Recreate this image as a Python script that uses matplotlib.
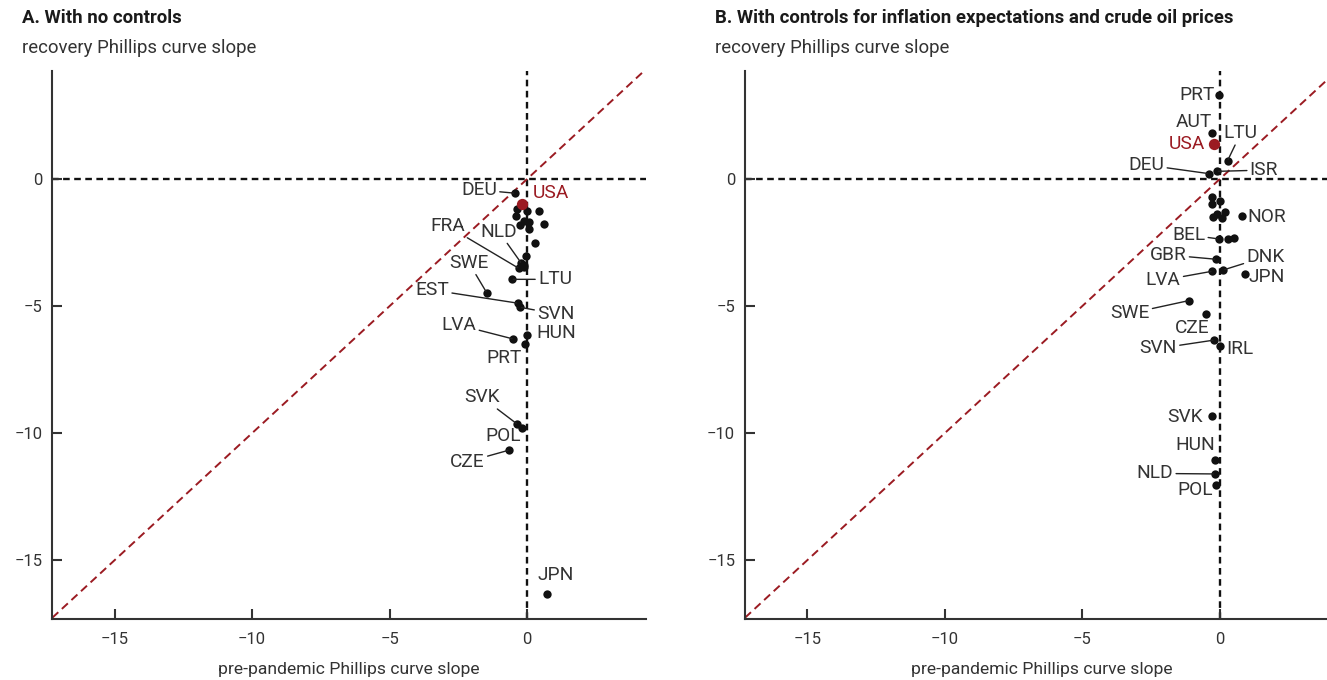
import matplotlib
matplotlib.use("Agg")
import matplotlib.pyplot as plt

plt.rcParams["font.family"] = ["Roboto", "DejaVu Sans"]

# Panel A: no controls (pre-pandemic slope, recovery slope)
countries_a = ["DEU", "USA", "FRA", "NLD", "SWE", "LTU", "EST", "SVN", "HUN",
               "LVA", "PRT", "SVK", "POL", "CZE", "JPN",
               "", "", "", "", "", "", "", "", "", "", "", "", ""]
pre_a = [-0.44, -0.18, -0.30, -0.21, -1.47, -0.56, -0.33, -0.26, 0.00,
         -0.50, -0.09, -0.36, -0.18, -0.65, 0.73,
         -0.38, 0.00, 0.42, -0.42, -0.10, 0.08, -0.25, 0.06, 0.60, 0.30,
         -0.03, -0.10, -0.12]
rec_a = [-0.56, -0.98, -3.52, -3.32, -4.48, -3.95, -4.89, -5.05, -6.14,
         -6.30, -6.50, -9.65, -9.82, -10.67, -16.35,
         -1.17, -1.28, -1.28, -1.45, -1.65, -1.70, -1.80, -1.97, -1.78,
         -2.52, -3.03, -3.45, -3.40]

# Panel B: controls for inflation expectations and crude oil prices
countries_b = ["PRT", "AUT", "USA", "LTU", "DEU", "ISR", "NOR", "BEL", "GBR",
               "DNK", "LVA", "JPN", "SWE", "CZE", "SVN", "IRL", "SVK", "HUN",
               "NLD", "POL",
               "", "", "", "", "", "", "", "", ""]
pre_b = [-0.04, -0.30, -0.20, 0.28, -0.40, -0.11, 0.82, -0.04, -0.14,
         0.13, -0.27, 0.93, -1.14, -0.52, -0.20, 0.02, -0.30, -0.18,
         -0.18, -0.13,
         -0.30, 0.00, -0.28, 0.18, -0.12, -0.24, 0.06, 0.28, 0.51]
rec_b = [3.30, 1.80, 1.37, 0.72, 0.21, 0.30, -1.44, -2.36, -3.16,
         -3.58, -3.63, -3.74, -4.79, -5.31, -6.34, -6.57, -9.33, -11.07,
         -11.61, -12.03,
         -0.72, -0.85, -0.98, -1.29, -1.39, -1.48, -1.55, -2.35, -2.33]

# label centres (data units) and whether a leader line is drawn
labels_a = {
    "DEU": (-1.75, -0.43, True), "USA": (0.87, -0.56, False),
    "FRA": (-2.90, -1.85, True), "NLD": (-1.03, -2.07, True),
    "SWE": (-2.12, -3.30, True), "LTU": (1.01, -3.95, True),
    "EST": (-3.45, -4.37, True), "SVN": (1.04, -5.31, True),
    "HUN": (1.04, -6.07, False), "LVA": (-2.48, -5.75, True),
    "PRT": (-0.84, -7.06, False), "SVK": (-1.65, -8.59, True),
    "POL": (-0.87, -10.12, False), "CZE": (-2.17, -11.13, True),
    "JPN": (1.04, -15.59, False),
}
labels_b = {
    "PRT": (-0.85, 3.31, False), "AUT": (-0.93, 2.26, False),
    "USA": (-1.21, 1.38, False), "LTU": (0.76, 1.80, True),
    "DEU": (-2.67, 0.55, True), "ISR": (1.60, 0.35, True),
    "NOR": (1.72, -1.48, False), "BEL": (-1.13, -2.20, True),
    "GBR": (-1.88, -2.99, True), "DNK": (1.66, -3.06, True),
    "LVA": (-2.06, -3.98, True), "JPN": (1.72, -3.85, False),
    "SWE": (-3.27, -5.29, True), "CZE": (-1.00, -5.88, False),
    "SVN": (-2.24, -6.67, True), "IRL": (0.73, -6.70, False),
    "SVK": (-1.25, -9.38, False), "HUN": (-0.88, -10.47, False),
    "NLD": (-2.36, -11.59, True), "POL": (-0.91, -12.24, False),
}

titles = ["A. With no controls",
          "B. With controls for inflation expectations and crude oil prices"]

RED = "#9b1b22"
INK = "#333333"
XLIM = (-17.27, 4.33)
YLIM = (-17.33, 4.25)


def draw_panel(ax, names, xs, ys, labels):
    ax.set_xlim(*XLIM)
    ax.set_ylim(*YLIM)
    ax.axhline(0, color="#111111", lw=1.7, ls=(0, (2.8, 1.9)), zorder=1)
    ax.axvline(0, color="#111111", lw=1.7, ls=(0, (2.8, 1.9)), zorder=1)
    ax.axline((0, 0), slope=1, color=RED, lw=1.4, ls=(0, (4.2, 2.5)), zorder=1)

    for name, x, y in zip(names, xs, ys):
        if name == "USA":
            ax.scatter(x, y, s=66, color=RED, zorder=4, linewidths=0)
        else:
            ax.scatter(x, y, s=36, color="#111111", zorder=3, linewidths=0)
        if name in labels:
            tx, ty, leader = labels[name]
            color = RED if name == "USA" else INK
            props = None
            if leader:
                props = dict(arrowstyle="-", color="#222222", lw=1.0,
                             shrinkA=0, shrinkB=1)
            ax.annotate(name, xy=(x, y), xytext=(tx, ty), ha="center",
                        va="center", fontsize=13.8, color=color,
                        arrowprops=props, zorder=5)

    for side in ("top", "right"):
        ax.spines[side].set_visible(False)
    for side in ("left", "bottom"):
        ax.spines[side].set_linewidth(1.5)
        ax.spines[side].set_color(INK)
    ax.set_xticks([-15, -10, -5, 0])
    ax.set_yticks([-15, -10, -5, 0])
    ax.tick_params(direction="in", length=7, width=1.5, color=INK,
                   labelcolor=INK, labelsize=12)
    ax.tick_params(axis="x", pad=9)
    ax.tick_params(axis="y", pad=7)
    ax.set_xlabel("pre-pandemic Phillips curve slope", fontsize=12.6,
                  color=INK, labelpad=11)


fig = plt.figure(figsize=(13.27, 6.8), dpi=100)
ax_a = fig.add_axes([0.0394, 0.0893, 0.4476, 0.8063])
ax_b = fig.add_axes([0.5614, 0.0893, 0.4476, 0.8063])

draw_panel(ax_a, countries_a, pre_a, rec_a, labels_a)
draw_panel(ax_b, countries_b, pre_b, rec_b, labels_b)

for x0, title in zip([22 / 1327, 715 / 1327], titles):
    fig.text(x0, 1 - 18 / 680, title, fontsize=13.4, fontweight="bold",
             color="#1a1a1a", va="center", ha="left")
    fig.text(x0, 1 - 48 / 680, "recovery Phillips curve slope", fontsize=13.4,
             color=INK, va="center", ha="left")

fig.savefig("out.png", dpi=100)
